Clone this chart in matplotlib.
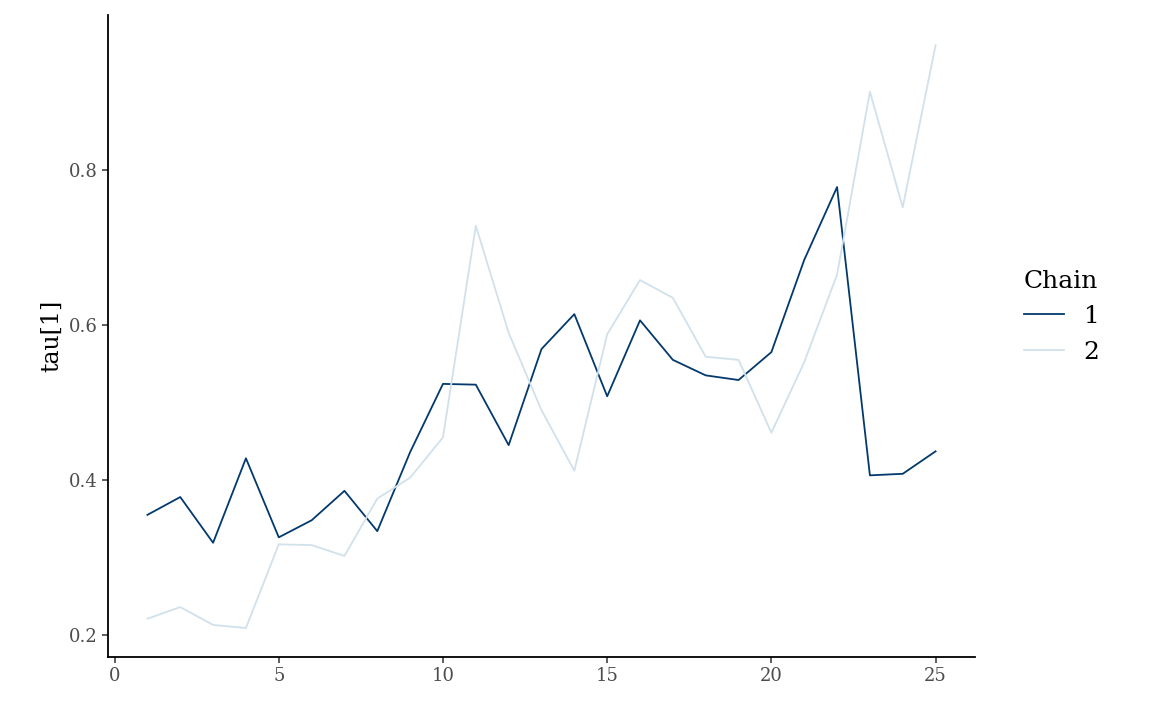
import matplotlib
matplotlib.use("Agg")
import matplotlib.pyplot as plt

iterations = list(range(1, 26))
chain1 = [0.355, 0.378, 0.319, 0.428, 0.326, 0.348, 0.386, 0.334, 0.436, 0.524,
          0.523, 0.445, 0.569, 0.614, 0.508, 0.606, 0.555, 0.535, 0.529, 0.565,
          0.684, 0.778, 0.406, 0.408, 0.437]
chain2 = [0.221, 0.236, 0.213, 0.209, 0.317, 0.316, 0.302, 0.376, 0.403, 0.455,
          0.728, 0.590, 0.490, 0.412, 0.588, 0.658, 0.635, 0.559, 0.555, 0.461,
          0.552, 0.665, 0.901, 0.752, 0.961]
chains = ["1", "2"]
colors = ["#03396c", "#d1e1ec"]

plt.rcParams['font.family'] = ['DejaVu Serif']
fig = plt.figure(figsize=(11.52, 7.11), dpi=100)
ax = fig.add_axes([108/1152, 1-657/711, (975-108)/1152, (657-15)/711])
for vals, lab, c in zip([chain1, chain2], chains, colors):
    ax.plot(iterations, vals, color=c, lw=1.3, label=lab)
ax.set_xlim(-0.2, 26.2)
ax.set_ylim(0.1716, 1.0)
ax.set_xticks([0, 5, 10, 15, 20, 25])
ax.set_yticks([0.2, 0.4, 0.6, 0.8])
ax.set_yticklabels(["0.2", "0.4", "0.6", "0.8"])
for s in ["top", "right"]:
    ax.spines[s].set_visible(False)
for s in ["left", "bottom"]:
    ax.spines[s].set_linewidth(1.3)
ax.tick_params(labelsize=13, colors="#4d4d4d", length=4, width=1.1)
ax.tick_params(color="#333333")
ax.set_ylabel("tau[1]", fontsize=17)
leg = ax.legend(title="Chain", fontsize=18, title_fontsize=18, frameon=False,
                loc="center left", bbox_to_anchor=(1.03, 0.53), handlelength=1.6)
leg._legend_box.align = "left"
fig.savefig("out.png", dpi=100)
